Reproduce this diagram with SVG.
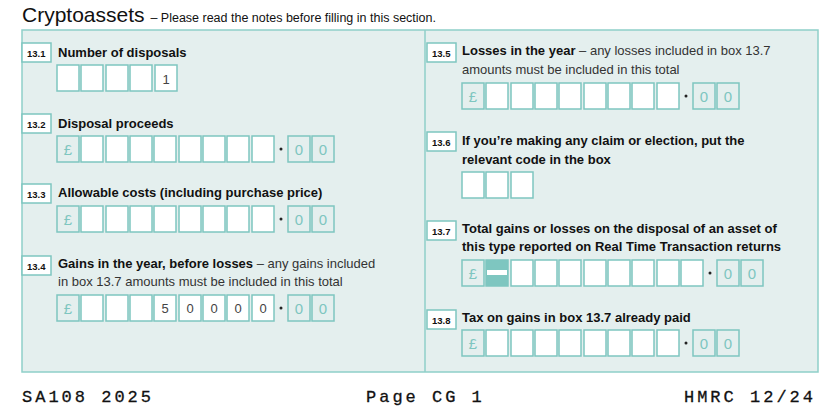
<svg xmlns="http://www.w3.org/2000/svg" width="834" height="418" viewBox="0 0 834 418">
<defs>
<style>
text{font-family:"Liberation Sans",Arial,sans-serif;fill:#111}
.b{font-weight:bold;font-size:13px}
.n{font-size:13px;fill:#333}
.badge{fill:#fff;stroke:#7ec6c0;stroke-width:1.5}
.bt{font-size:9.5px;font-weight:bold}
.c{fill:#fff;stroke:#7ec6c0;stroke-width:1.5}
.p{fill:#e4efee;stroke:#7ec6c0;stroke-width:1.5}
.pt{font-size:15px;fill:#7ec6c0;text-anchor:middle}
.ct{font-size:13px;fill:#444;text-anchor:middle}
.f{font-family:"Liberation Mono","DejaVu Sans Mono",monospace;font-size:17px;letter-spacing:3px;stroke:#111;stroke-width:0.3}
</style>
<g id="c"><rect class="c" x="0" y="0" width="22" height="26"/></g>
</defs>
<text x="22" y="22" style="font-size:21px">Cryptoassets <tspan style="font-size:12.5px">– Please read the notes before filling in this section.</tspan></text>
<rect x="22" y="30" width="796" height="342" fill="#e4efee" stroke="#8fcfc9" stroke-width="1.5"/>
<line x1="425" y1="30" x2="425" y2="372" stroke="#8fcfc9" stroke-width="1.5"/>

<g id="n131">
<rect class="badge" x="22" y="43" width="29" height="19"/><text class="bt" x="27" y="57">13.1</text>
<text class="b" x="58" y="57">Number of disposals</text>
<use href="#c" x="57" y="65"/><use href="#c" x="81" y="65"/><use href="#c" x="106" y="65"/><use href="#c" x="130" y="65"/><use href="#c" x="155" y="65"/>
<text class="ct" x="166" y="84">1</text>
</g>
<g id="n132">
<rect class="badge" x="22" y="114" width="29" height="19"/><text class="bt" x="27" y="128">13.2</text>
<text class="b" x="58" y="128">Disposal proceeds</text>
<rect class="p" x="57" y="136" width="22" height="26"/><text class="pt" x="68" y="155">£</text>
<use href="#c" x="81" y="136"/><use href="#c" x="106" y="136"/><use href="#c" x="130" y="136"/><use href="#c" x="154" y="136"/><use href="#c" x="179" y="136"/><use href="#c" x="203" y="136"/><use href="#c" x="227" y="136"/><use href="#c" x="252" y="136"/>
<circle cx="281" cy="149" r="1.5" fill="#222"/>
<rect class="p" x="288" y="136" width="22" height="26"/><rect class="p" x="312" y="136" width="22" height="26"/><text class="pt" x="299" y="155">0</text><text class="pt" x="323" y="155">0</text>
</g>
<g id="n133">
<rect class="badge" x="22" y="184" width="29" height="19"/><text class="bt" x="27" y="198">13.3</text>
<text class="b" x="58" y="197">Allowable costs (including purchase price)</text>
<rect class="p" x="57" y="206" width="22" height="26"/><text class="pt" x="68" y="225">£</text>
<use href="#c" x="81" y="206"/><use href="#c" x="106" y="206"/><use href="#c" x="130" y="206"/><use href="#c" x="154" y="206"/><use href="#c" x="179" y="206"/><use href="#c" x="203" y="206"/><use href="#c" x="227" y="206"/><use href="#c" x="252" y="206"/>
<circle cx="281" cy="219" r="1.5" fill="#222"/>
<rect class="p" x="288" y="206" width="22" height="26"/><rect class="p" x="312" y="206" width="22" height="26"/><text class="pt" x="299" y="225">0</text><text class="pt" x="323" y="225">0</text>
</g>
<g id="n134">
<rect class="badge" x="22" y="256" width="29" height="19"/><text class="bt" x="27" y="270">13.4</text>
<text class="b" x="58" y="268">Gains in the year, before losses <tspan class="n" style="font-weight:normal">– any gains included</tspan></text>
<text class="n" x="58" y="286">in box 13.7 amounts must be included in this total</text>
<rect class="p" x="57" y="295" width="22" height="26"/><text class="pt" x="68" y="314">£</text>
<use href="#c" x="81" y="295"/><use href="#c" x="106" y="295"/><use href="#c" x="130" y="295"/><use href="#c" x="154" y="295"/><use href="#c" x="179" y="295"/><use href="#c" x="203" y="295"/><use href="#c" x="227" y="295"/><use href="#c" x="252" y="295"/>
<text class="ct" x="165" y="313">5</text><text class="ct" x="190" y="313">0</text><text class="ct" x="214" y="313">0</text><text class="ct" x="238" y="313">0</text><text class="ct" x="263" y="313">0</text>
<circle cx="281" cy="308" r="1.5" fill="#222"/>
<rect class="p" x="288" y="295" width="22" height="26"/><rect class="p" x="312" y="295" width="22" height="26"/><text class="pt" x="299" y="314">0</text><text class="pt" x="323" y="314">0</text>
</g>

<g id="n135">
<rect class="badge" x="427" y="43" width="29" height="19"/><text class="bt" x="432" y="57">13.5</text>
<text class="b" x="462" y="55">Losses in the year <tspan class="n" style="font-weight:normal">– any losses included in box 13.7</tspan></text>
<text class="n" x="462" y="74">amounts must be included in this total</text>
<rect class="p" x="462" y="83" width="22" height="26"/><text class="pt" x="473" y="102">£</text>
<use href="#c" x="486" y="83"/><use href="#c" x="511" y="83"/><use href="#c" x="535" y="83"/><use href="#c" x="559" y="83"/><use href="#c" x="584" y="83"/><use href="#c" x="608" y="83"/><use href="#c" x="632" y="83"/><use href="#c" x="657" y="83"/>
<circle cx="686" cy="96" r="1.5" fill="#222"/>
<rect class="p" x="693" y="83" width="22" height="26"/><rect class="p" x="717" y="83" width="22" height="26"/><text class="pt" x="704" y="102">0</text><text class="pt" x="728" y="102">0</text>
</g>
<g id="n136">
<rect class="badge" x="427" y="132" width="29" height="19"/><text class="bt" x="432" y="146">13.6</text>
<text class="b" x="462" y="145">If you’re making any claim or election, put the</text>
<text class="b" x="462" y="164">relevant code in the box</text>
<use href="#c" x="462" y="172"/><use href="#c" x="486" y="172"/><use href="#c" x="511" y="172"/>
</g>
<g id="n137">
<rect class="badge" x="427" y="221" width="29" height="19"/><text class="bt" x="432" y="235">13.7</text>
<text class="b" x="462" y="233">Total gains or losses on the disposal of an asset of</text>
<text class="b" x="462" y="251">this type reported on Real Time Transaction returns</text>
<rect class="p" x="462" y="260" width="22" height="26"/><text class="pt" x="473" y="279">£</text>
<rect x="486" y="260" width="22" height="26" fill="#7ec6c0" stroke="#7ec6c0" stroke-width="1.5"/><rect x="487" y="270" width="20" height="5" fill="#fff"/>
<use href="#c" x="511" y="260"/><use href="#c" x="535" y="260"/><use href="#c" x="559" y="260"/><use href="#c" x="584" y="260"/><use href="#c" x="608" y="260"/><use href="#c" x="632" y="260"/><use href="#c" x="657" y="260"/><use href="#c" x="681" y="260"/>
<circle cx="710" cy="273" r="1.5" fill="#222"/>
<rect class="p" x="717" y="260" width="22" height="26"/><rect class="p" x="741" y="260" width="22" height="26"/><text class="pt" x="728" y="279">0</text><text class="pt" x="752" y="279">0</text>
</g>
<g id="n138">
<rect class="badge" x="427" y="310" width="29" height="19"/><text class="bt" x="432" y="324">13.8</text>
<text class="b" x="462" y="322">Tax on gains in box 13.7 already paid</text>
<rect class="p" x="462" y="330" width="22" height="26"/><text class="pt" x="473" y="349">£</text>
<use href="#c" x="486" y="330"/><use href="#c" x="511" y="330"/><use href="#c" x="535" y="330"/><use href="#c" x="559" y="330"/><use href="#c" x="584" y="330"/><use href="#c" x="608" y="330"/><use href="#c" x="632" y="330"/><use href="#c" x="657" y="330"/>
<circle cx="686" cy="343" r="1.5" fill="#222"/>
<rect class="p" x="693" y="330" width="22" height="26"/><rect class="p" x="717" y="330" width="22" height="26"/><text class="pt" x="704" y="349">0</text><text class="pt" x="728" y="349">0</text>
</g>
<g id="connectors"/>
<text class="f" x="22" y="402">SA108 2025</text>
<text class="f" x="366" y="402">Page CG 1</text>
<text class="f" x="816" y="402" text-anchor="end">HMRC 12/24</text>
</svg>
